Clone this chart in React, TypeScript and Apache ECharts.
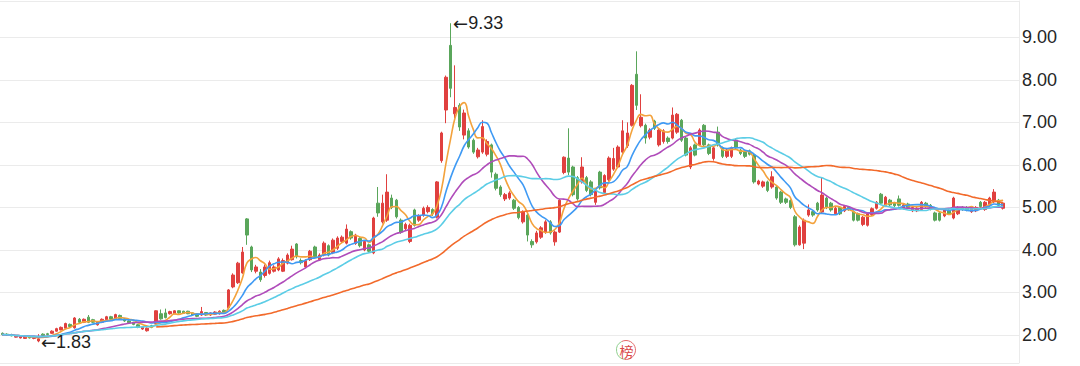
import React, { useEffect, useRef } from "react";
import * as echarts from "echarts";

// Each candle: [open, close, low, high]
const segEarly: number[][] = [
  [2.04, 2.01, 1.99, 2.06], [2.02, 2.0, 1.98, 2.04], [2.01, 1.98, 1.97, 2.03], [1.95, 1.97, 1.94, 1.99],
  [1.93, 1.96, 1.92, 1.98], [1.92, 1.95, 1.91, 1.97], [1.96, 1.93, 1.92, 1.98], [1.92, 1.94, 1.9, 1.96],
  [1.86, 1.91, 1.83, 2.02], [2.02, 1.99, 1.97, 2.04], [2.03, 2.01, 1.99, 2.05], [2.04, 2.09, 2.03, 2.11],
  [2.09, 2.15, 2.08, 2.17], [2.12, 2.18, 2.11, 2.2], [2.16, 2.27, 2.15, 2.29], [2.25, 2.2, 2.18, 2.27],
  [2.17, 2.4, 2.15, 2.42], [2.37, 2.3, 2.28, 2.4], [2.3, 2.37, 2.28, 2.39], [2.42, 2.3, 2.28, 2.47],
  [2.36, 2.3, 2.28, 2.38], [2.24, 2.3, 2.22, 2.32], [2.3, 2.37, 2.28, 2.39], [2.36, 2.43, 2.34, 2.45],
  [2.43, 2.37, 2.35, 2.45], [2.38, 2.48, 2.36, 2.5], [2.46, 2.39, 2.37, 2.48], [2.38, 2.33, 2.31, 2.4],
  [2.33, 2.29, 2.27, 2.35], [2.3, 2.25, 2.23, 2.31], [2.24, 2.18, 2.16, 2.26], [2.14, 2.18, 2.12, 2.2],
  [2.1, 2.16, 2.08, 2.18], [2.22, 2.18, 2.16, 2.24], [2.27, 2.57, 2.25, 2.58], [2.5, 2.38, 2.36, 2.6],
  [2.52, 2.41, 2.39, 2.62], [2.5, 2.55, 2.48, 2.57], [2.5, 2.57, 2.49, 2.58], [2.57, 2.52, 2.5, 2.58],
  [2.56, 2.51, 2.5, 2.57], [2.56, 2.5, 2.49, 2.57], [2.52, 2.47, 2.45, 2.53], [2.5, 2.44, 2.42, 2.51],
  [2.47, 2.55, 2.45, 2.66], [2.53, 2.47, 2.45, 2.54], [2.47, 2.52, 2.45, 2.53], [2.49, 2.54, 2.47, 2.56],
  [2.5, 2.56, 2.48, 2.58], [2.58, 2.52, 2.5, 2.6],
];

const segRise: number[][] = [
  [2.64, 3.06, 2.6, 3.08], [3.13, 3.41, 3.1, 3.45], [3.23, 3.69, 3.2, 3.72], [3.46, 3.95, 3.44, 4.07],
  [4.73, 4.35, 4.12, 4.75], [4.07, 3.53, 3.48, 4.1], [3.5, 3.6, 3.45, 3.65], [3.48, 3.3, 3.25, 3.55],
  [3.4, 3.6, 3.35, 3.66], [3.45, 3.7, 3.42, 3.75], [3.5, 3.6, 3.47, 3.64], [3.53, 3.79, 3.5, 3.83],
  [3.5, 3.75, 3.48, 3.8], [3.69, 3.88, 3.66, 3.92], [3.77, 4.02, 3.75, 4.1], [4.14, 3.84, 3.8, 4.16],
  [3.75, 3.7, 3.66, 3.8], [3.6, 3.75, 3.57, 3.78], [3.77, 3.97, 3.74, 4.0], [4.07, 3.84, 3.8, 4.1],
  [3.77, 3.88, 3.74, 3.92], [3.88, 4.16, 3.85, 4.2], [4.1, 3.88, 3.85, 4.13], [3.93, 4.23, 3.9, 4.27],
  [4.04, 4.28, 4.0, 4.32], [4.2, 4.3, 4.16, 4.34], [4.16, 4.49, 4.13, 4.6], [4.43, 4.28, 4.24, 4.46],
  [4.15, 4.35, 4.12, 4.38], [4.27, 4.1, 4.06, 4.3], [4.0, 4.2, 3.97, 4.23], [4.12, 3.97, 3.94, 4.15],
  [3.93, 4.75, 3.9, 4.78], [5.1, 4.87, 4.78, 5.48], [4.66, 5.1, 4.62, 5.3], [4.7, 5.36, 4.66, 5.78],
  [5.22, 5.0, 4.96, 5.3], [5.17, 4.78, 4.74, 5.2], [4.7, 4.42, 4.38, 4.74], [4.5, 4.6, 4.46, 4.64],
  [4.2, 4.58, 4.16, 4.62], [4.94, 4.58, 4.55, 4.97], [4.7, 4.8, 4.66, 4.84], [4.82, 4.98, 4.78, 5.02],
  [4.9, 5.0, 4.86, 5.05],
];

const segPeak: number[][] = [
  [4.95, 4.85, 4.8, 4.98], [4.77, 5.6, 4.74, 5.62], [6.1, 6.75, 6.05, 6.78], [7.29, 8.06, 6.98, 8.1],
  [8.81, 7.8, 7.59, 9.33], [7.2, 7.35, 7.1, 8.34], [7.4, 6.89, 6.8, 7.45], [6.7, 7.22, 6.6, 7.3],
  [6.8, 6.42, 6.38, 6.86], [6.58, 6.3, 6.26, 6.62], [6.19, 6.35, 6.15, 6.4], [6.3, 6.9, 6.26, 7.05],
  [6.25, 6.55, 6.2, 6.6], [6.47, 5.83, 5.7, 6.5], [5.78, 5.45, 5.4, 5.82], [5.48, 5.3, 5.25, 5.52],
  [5.2, 5.3, 5.15, 5.34], [5.22, 5.34, 5.18, 5.38], [5.17, 4.98, 4.94, 5.2], [5.0, 4.76, 4.72, 5.03],
  [4.66, 4.89, 4.62, 4.93], [4.82, 4.35, 4.2, 4.85], [4.2, 4.12, 4.05, 4.25], [4.19, 4.4, 4.15, 4.45],
  [4.3, 4.52, 4.26, 4.56], [4.42, 4.66, 4.38, 4.7], [4.66, 4.4, 4.36, 4.7], [4.19, 4.42, 4.1, 4.46],
  [4.42, 5.17, 4.4, 5.2], [5.82, 6.18, 5.78, 6.2], [6.16, 5.83, 5.76, 6.86], [5.95, 5.3, 5.26, 5.98],
  [5.7, 5.2, 5.16, 5.74], [5.6, 5.95, 5.56, 6.18], [5.7, 5.4, 5.36, 5.74], [5.6, 5.3, 5.26, 5.64],
  [5.12, 5.4, 5.06, 5.44], [5.83, 5.46, 5.42, 5.86], [5.35, 5.75, 5.32, 5.78], [5.65, 6.16, 5.62, 6.2],
  [5.9, 6.15, 5.86, 6.4], [5.95, 6.42, 5.92, 6.46], [6.3, 6.8, 6.26, 7.05],
];

const segSecond: number[][] = [
  [6.45, 6.75, 6.4, 7.0], [6.93, 7.87, 6.9, 7.9], [8.13, 7.4, 7.29, 8.67], [6.92, 7.12, 6.88, 7.66],
  [6.93, 6.63, 6.5, 6.97], [6.65, 6.82, 6.6, 6.86], [7.03, 6.86, 6.82, 7.06], [6.47, 6.82, 6.43, 6.86],
  [6.55, 6.8, 6.5, 6.84], [6.63, 6.55, 6.5, 6.67], [6.63, 7.17, 6.6, 7.35], [6.77, 7.19, 6.73, 7.22],
  [7.05, 6.58, 6.54, 7.08], [6.63, 6.23, 6.2, 6.66], [5.95, 6.4, 5.9, 6.44], [6.47, 6.23, 6.2, 6.5],
  [6.47, 6.82, 6.44, 6.86], [6.93, 6.47, 6.43, 6.96], [6.47, 6.27, 6.23, 6.5], [6.15, 6.4, 6.1, 6.43],
  [6.77, 6.47, 6.43, 6.9], [6.4, 6.2, 6.16, 6.43], [6.2, 6.35, 6.16, 6.38], [6.2, 6.4, 6.16, 6.43],
  [6.58, 6.4, 6.36, 6.62], [6.35, 6.27, 6.23, 6.38], [6.3, 6.2, 6.16, 6.33], [6.33, 6.25, 6.22, 6.36],
  [6.23, 5.6, 5.56, 6.26], [5.55, 5.62, 5.52, 5.65], [5.5, 5.6, 5.46, 5.63], [5.6, 5.4, 5.36, 5.63],
  [5.48, 5.72, 5.44, 5.85], [5.48, 5.22, 5.18, 5.5], [5.36, 5.12, 5.08, 5.39], [5.2, 5.12, 5.08, 5.23],
  [5.16, 5.0, 4.96, 5.19],
];

const segLate: number[][] = [
  [4.78, 4.12, 4.08, 4.82], [4.12, 4.54, 4.1, 4.58], [4.16, 4.7, 4.02, 4.74], [4.82, 4.94, 4.78, 5.07],
  [4.9, 4.82, 4.78, 4.93], [5.1, 4.94, 4.9, 5.13], [4.89, 5.29, 4.85, 5.7], [5.22, 5.0, 4.96, 5.25],
  [5.1, 4.94, 4.9, 5.13], [4.85, 4.98, 4.82, 5.01], [5.0, 4.85, 4.82, 5.03], [4.92, 5.02, 4.89, 5.05],
  [5.0, 4.95, 4.92, 5.03], [4.9, 4.7, 4.67, 4.93], [4.85, 4.7, 4.67, 4.88], [4.6, 4.77, 4.56, 4.8],
  [4.58, 4.85, 4.55, 4.88], [4.83, 4.97, 4.8, 5.0], [4.98, 5.12, 4.95, 5.15], [5.31, 5.1, 5.07, 5.34],
  [5.05, 5.24, 5.02, 5.27], [5.17, 5.06, 5.03, 5.2], [5.1, 5.04, 5.01, 5.13], [5.2, 5.05, 5.02, 5.28],
  [4.98, 5.06, 4.95, 5.09], [5.08, 5.0, 4.97, 5.11], [4.92, 5.0, 4.89, 5.03], [4.92, 4.98, 4.89, 5.01],
  [4.95, 5.12, 4.92, 5.15], [5.1, 5.02, 4.99, 5.13], [5.05, 4.96, 4.93, 5.08], [4.87, 4.7, 4.67, 4.9],
  [4.87, 4.7, 4.67, 4.9], [4.8, 4.95, 4.77, 4.98], [4.93, 4.85, 4.82, 4.96], [4.75, 5.22, 4.72, 5.25],
  [4.85, 5.0, 4.82, 5.03], [5.0, 4.95, 4.92, 5.03], [5.0, 4.94, 4.91, 5.03], [4.9, 4.98, 4.87, 5.01],
  [4.92, 5.0, 4.89, 5.03], [5.12, 5.02, 4.99, 5.15], [4.95, 5.12, 4.92, 5.15], [5.05, 5.22, 5.02, 5.25],
  [5.13, 5.36, 5.1, 5.43], [5.17, 5.05, 5.02, 5.2], [4.98, 5.1, 4.95, 5.13],
];

const candles = [...segEarly, ...segRise, ...segPeak, ...segSecond, ...segLate];
const closes = candles.map((c) => c[1]);

// Total category slots on the axis (a few empty slots remain at the right end)
const slotCount = 225;
const categories = Array.from({ length: slotCount }, (_, i) => String(i + 1));

// Moving-average lines (period, colour, first index drawn)
const maPeriods = [5, 10, 20, 30, 60];
const maColors = ["#f3a23c", "#3f9af4", "#b04cba", "#5ccde6", "#f26a2b"];
const maStarts = [0, 0, 0, 0, 34];

const yMin = 1.342;
const yMax = 9.853;

function movingAverage(period: number, start: number) {
  return closes.map((_, i) => {
    if (i < start) return "-";
    const from = Math.max(0, i - period + 1);
    let s = 0;
    for (let k = from; k <= i; k++) s += closes[k];
    return +(s / (i - from + 1)).toFixed(3);
  });
}

export default function App() {
  const ref = useRef<HTMLDivElement>(null);
  useEffect(() => {
    if (!ref.current) return;
    const chart = echarts.init(ref.current, undefined, { renderer: "svg" });
    const font = "'Liberation Sans', Arial, Helvetica, sans-serif";
    chart.setOption({
      animation: false,
      grid: { left: -1.7, right: 61, top: 1, bottom: 3 },
      xAxis: {
        type: "category",
        data: categories,
        boundaryGap: true,
        axisLine: { show: false },
        axisTick: { show: false },
        axisLabel: { show: false },
        splitLine: { show: false },
      },
      yAxis: {
        type: "value",
        position: "right",
        min: yMin,
        max: yMax,
        splitNumber: 8,
        axisLine: { show: true, lineStyle: { color: "#ebebeb", width: 1 } },
        axisTick: { show: false },
        axisLabel: {
          showMinLabel: false,
          showMaxLabel: false,
          formatter: (v: number) => v.toFixed(2),
          color: "#262626",
          fontSize: 18,
          fontFamily: font,
          margin: 3,
        },
        splitLine: { show: true, lineStyle: { color: "#ebebeb", width: 1 } },
      },
      series: [
        {
          type: "candlestick",
          data: candles,
          barWidth: 3,
          itemStyle: {
            color: "#e0403f",
            color0: "#5aa65b",
            borderColor: "#e0403f",
            borderColor0: "#5aa65b",
            borderWidth: 1,
          },
          markPoint: {
            symbol: "circle",
            symbolSize: 1,
            itemStyle: { color: "rgba(0,0,0,0)" },
            label: {
              show: true,
              position: "right",
              distance: 2,
              color: "#1f1f1f",
              fontSize: 18,
              fontFamily: font,
              formatter: (p: any) => "{a|←}{b|" + Number(p.value).toFixed(2) + "}",
              rich: {
                a: { fontFamily: "'DejaVu Sans', sans-serif", fontSize: 18, color: "#1f1f1f" },
                b: { fontFamily: font, fontSize: 18, color: "#1f1f1f" },
              },
            },
            data: [
              { type: "max", valueDim: "highest" },
              { type: "min", valueDim: "lowest" },
            ],
          },
          z: 2,
        },
        ...maPeriods.map((p, k) => ({
          type: "line",
          name: "MA" + p,
          data: movingAverage(p, maStarts[k]),
          symbol: "none",
          smooth: true,
          lineStyle: { color: maColors[k], width: 1.6 },
          z: 3,
        })),
      ],
      graphic: [
        {
          type: "arc",
          shape: { cx: 626, cy: 350, r: 9.5, startAngle: Math.PI * 0.55, endAngle: Math.PI * 1.35 },
          style: { stroke: "#8fd08f", lineWidth: 1, fill: "none" },
        },
        {
          type: "arc",
          shape: { cx: 626, cy: 350, r: 9.5, startAngle: Math.PI * 1.35, endAngle: Math.PI * 2.55 },
          style: { stroke: "#e46a6a", lineWidth: 1, fill: "none" },
        },
        {
          type: "text",
          x: 626.5,
          y: 351,
          style: {
            text: "榜",
            fill: "#d94848",
            font: "14px 'Noto Sans CJK SC'",
            align: "center",
            verticalAlign: "middle",
          },
        },
      ],
    });
    return () => chart.dispose();
  }, []);
  return (
    <div
      ref={ref}
      style={{ position: "fixed", left: 0, top: 0, width: 1080, height: 366, background: "#fff" }}
    />
  );
}
